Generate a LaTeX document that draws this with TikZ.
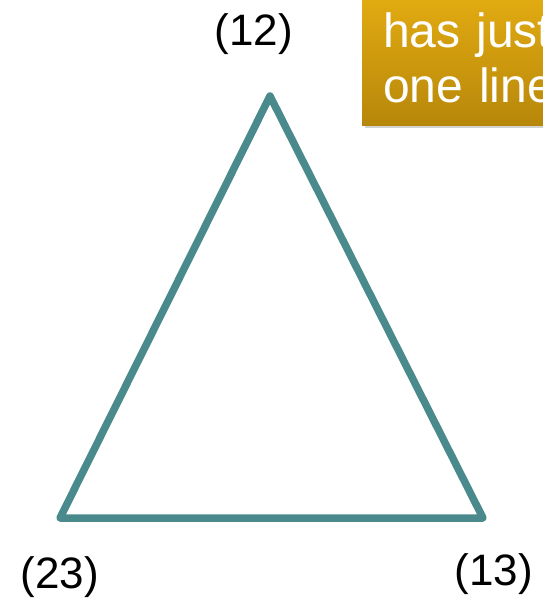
\documentclass[tikz,border=0pt]{standalone}
\usepackage{fontspec}
\setmainfont{Liberation Sans}
\usetikzlibrary{shadows}
\definecolor{EdgeTeal}{HTML}{4A8A8C}
\definecolor{NoteTop}{HTML}{E4AD12}
\definecolor{NoteBottom}{HTML}{B7870A}
\tikzset{
  vertexLabel/.style={font=\fontsize{44}{50}\selectfont,text=black,inner sep=0pt},
  edgeLine/.style={draw=EdgeTeal,line width=7.5pt,line join=round,line cap=round},
  noteBox/.style={rectangle,top color=NoteTop,bottom color=NoteBottom,draw=none,
    text=white,font=\fontsize{48}{55}\selectfont,align=left,text width=300pt,
    inner xsep=21pt,inner ysep=0pt,minimum height=135pt,anchor=north west,
    drop shadow={shadow xshift=3pt,shadow yshift=-3pt,opacity=.35}}
}
\begin{document}
\begin{tikzpicture}[x=1pt,y=-1pt]
  \useasboundingbox (0,0) rectangle (543,600);
  \clip (0,0) rectangle (543,600);
  % triangle corners
  \coordinate (v12) at (270,96);
  \coordinate (v23) at (60,518);
  \coordinate (v13) at (483,518);
  \draw[edgeLine] (v12) -- (v13) -- (v23) -- cycle;

  % vertex labels
  \node[vertexLabel] (l12) at (254,34) {(12)};
  \node[vertexLabel] (l23) at (60,577) {(23)};
  \node[vertexLabel] (l13) at (494,574) {(13)};

  % note in the corner
  \node[noteBox] (note) at (362,-10) {has just\\one line};
\end{tikzpicture}
\end{document}
